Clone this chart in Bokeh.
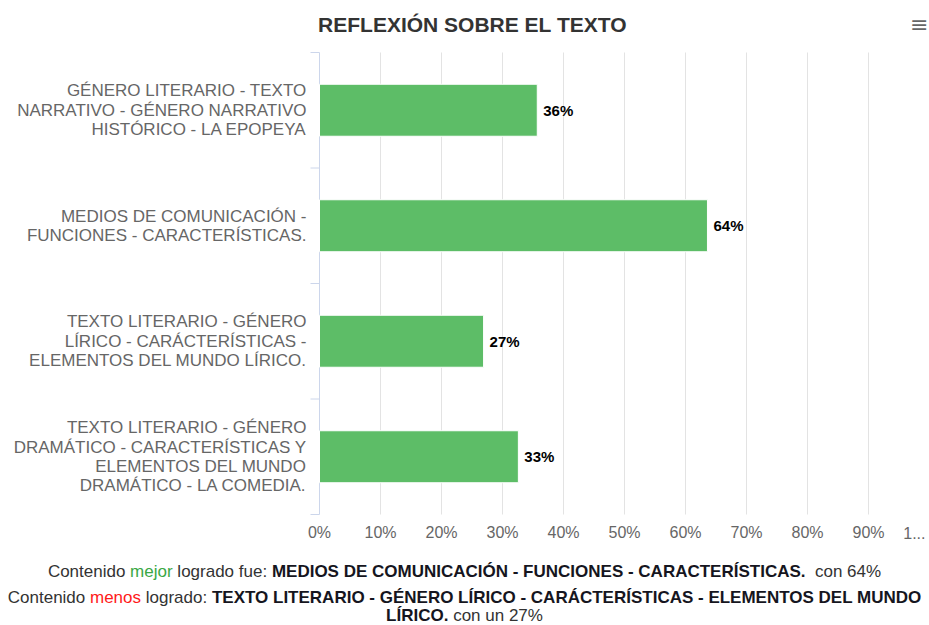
from bokeh.plotting import figure
from bokeh.models import ColumnDataSource, LabelSet, Range1d, FixedTicker, Div
from bokeh.core.properties import value
from bokeh.layouts import column
from bokeh.embed import file_html
from bokeh.resources import INLINE

# ---------------- data ----------------
title_text = "REFLEXIÓN SOBRE EL TEXTO"
category_lines = [
    ["GÉNERO LITERARIO - TEXTO", "NARRATIVO - GÉNERO NARRATIVO", "HISTÓRICO - LA EPOPEYA"],
    ["MEDIOS DE COMUNICACIÓN -", "FUNCIONES - CARACTERÍSTICAS."],
    ["TEXTO LITERARIO - GÉNERO", "LÍRICO - CARÁCTERÍSTICAS -", "ELEMENTOS DEL MUNDO LÍRICO."],
    ["TEXTO LITERARIO - GÉNERO", "DRAMÁTICO - CARACTERÍSTICAS Y", "ELEMENTOS DEL MUNDO", "DRAMÁTICO - LA COMEDIA."],
]
values = [35.7, 63.6, 26.9, 32.6]
x_ticks = [0, 10, 20, 30, 40, 50, 60, 70, 80, 90]
x_tick_labels = ["0%", "10%", "20%", "30%", "40%", "50%", "60%", "70%", "80%", "90%"]
x_max = 100
last_tick_label = "1..."

# ---------------- layout constants ----------------
FONT = "Liberation Sans"
W, H = 929, 548          # figure size (px)
FRAME_LEFT_PX = 306      # frame left edge (px)
ZERO_PX = 319            # where 0 % sits (px)
FRAME_TOP_PX = 52        # top of category area (px)
FRAME_BOT_PX = 514       # bottom of category area (px)
TICK_LEN_PX = 9
n = len(values)
band_px = (FRAME_BOT_PX - FRAME_TOP_PX) / n
px_per_unit = (W - ZERO_PX) / x_max
x_start = -(ZERO_PX - FRAME_LEFT_PX) / px_per_unit

def y_of(px):
    """canvas pixel row -> data y (bands 0..n, downwards)"""
    return (px - FRAME_TOP_PX) / band_px

p = figure(width=W, height=H, output_backend="svg", toolbar_location=None,
           x_range=Range1d(x_start, x_max), y_range=Range1d(y_of(H), y_of(0)),
           min_border_left=FRAME_LEFT_PX, min_border_right=0,
           min_border_top=0, min_border_bottom=0)
p.outline_line_color = None
p.background_fill_color = "white"
p.border_fill_color = "white"
p.xaxis.visible = False
p.xgrid.visible = False
p.ygrid.visible = False

# y axis: category labels at band centres
centers = [i + 0.5 for i in range(n)]
edges = list(range(n + 1))
p.yaxis.ticker = FixedTicker(ticks=centers, minor_ticks=[])
p.yaxis.major_label_overrides = {c: "\n".join(l) for c, l in zip(centers, category_lines)}
p.yaxis.major_tick_line_color = None
p.yaxis.minor_tick_line_color = None
p.yaxis.major_tick_out = 0
p.yaxis.major_tick_in = 0
p.yaxis.minor_tick_out = 0
p.yaxis.minor_tick_in = 0
p.yaxis.axis_line_color = None
p.yaxis.major_label_standoff = 0
p.yaxis.major_label_text_font = FONT
p.yaxis.major_label_text_font_size = "17px"
p.yaxis.major_label_text_color = "#666666"
p.yaxis.major_label_text_line_height = 1.02

# vertical grid lines (from the tick list), axis line and band-edge ticks, below the bars
grid_src = ColumnDataSource(dict(x=x_ticks[1:], y0=[0] * (len(x_ticks) - 1), y1=[n] * (len(x_ticks) - 1)))
p.segment(x0="x", y0="y0", x1="x", y1="y1", source=grid_src, line_color="#e3e3e3", line_width=1)
p.segment(x0=[0], y0=[0], x1=[0], y1=[n], line_color="#ccd6eb", line_width=1)
edge_src = ColumnDataSource(dict(x0=[-TICK_LEN_PX / px_per_unit] * len(edges), x1=[0] * len(edges), y=edges))
p.segment(x0="x0", y0="y", x1="x1", y1="y", source=edge_src, line_color="#ccd6eb", line_width=1)

# bars
bar_src = ColumnDataSource(dict(
    y=centers, value=values,
    label=[f"{round(v)}%" for v in values],
))
p.hbar(y="y", left=0, right="value", height=0.45, source=bar_src,
       fill_color="#5dbd67", line_color="#ffffff", line_width=1)

p.add_layout(LabelSet(x="value", y="y", text="label", source=bar_src,
                      x_offset=6, text_baseline="middle", text_align="left",
                      text_font=value(FONT), text_font_size="15px", text_font_style="bold",
                      text_color="#000000"))

# x tick labels (from the tick list)
tick_src = ColumnDataSource(dict(x=x_ticks, y=[y_of(532)] * len(x_ticks), text=x_tick_labels))
p.text(x="x", y="y", text="text", source=tick_src, text_align="center", text_baseline="middle",
       text_font=value(FONT), text_font_size="16px", text_color="#666666")
p.text(x=[x_max], y=[y_of(532)], text=[last_tick_label], x_offset=-4,
       text_align="right", text_baseline="middle",
       text_font=value(FONT), text_font_size="16px", text_color="#666666")

# title and menu icon
p.text(x=[(472 - ZERO_PX) / px_per_unit], y=[y_of(24)], text=[title_text],
       text_align="center", text_baseline="middle",
       text_font=value(FONT), text_font_size="21px", text_font_style="bold",
       text_color="#333333")
p.text(x=[x_max], y=[y_of(24)], text=["≡"], x_offset=-1,
       text_align="right", text_baseline="middle",
       text_font=value("DejaVu Sans"), text_font_size="22px", text_color="#666666")

# ---------------- bottom summary ----------------
names = [" ".join(l) for l in category_lines]
best_i = max(range(n), key=lambda i: values[i])
worst_i = min(range(n), key=lambda i: values[i])
worst_a, worst_b = names[worst_i].rsplit(" ", 1)
html = (
    f"<div style=\"font-family:'{FONT}',Arial,sans-serif;font-size:17px;color:#333333;"
    f"text-align:center;width:{W}px;\">"
    f"<div style='margin-top:15px;line-height:17px;white-space:nowrap;'>Contenido "
    f"<span style='color:#3aa845'>mejor</span> logrado fue: "
    f"<b style='color:#151520'>{names[best_i]}</b>&nbsp; con {round(values[best_i])}%</div>"
    f"<div style='margin-top:9px;line-height:18px;white-space:nowrap;'>Contenido "
    f"<span style='color:#ff1a1a'>menos</span> logrado: "
    f"<b style='color:#151520'>{worst_a}<br>{worst_b}</b> con un {round(values[worst_i])}%</div>"
    f"</div>"
)
div = Div(text=html, width=W, height=77, margin=(0, 0, 0, 0))

layout = column(p, div, spacing=0)
open("out.html", "w").write(file_html(layout, INLINE))
